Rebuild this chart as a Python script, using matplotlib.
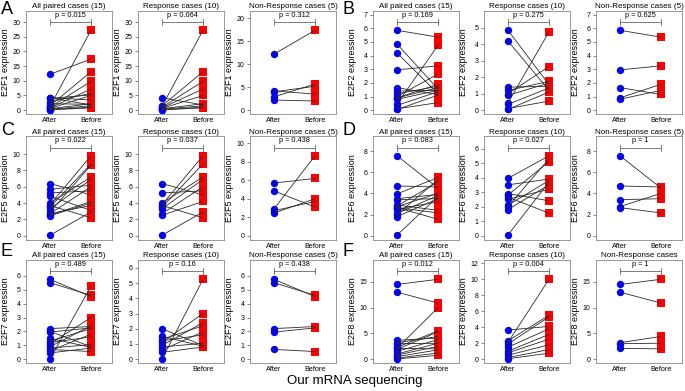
import matplotlib.pyplot as plt

plt.rcParams["font.family"] = ["Liberation Sans", "DejaVu Sans"]

genes = ["E2F1", "E2F2", "E2F5", "E2F6", "E2F7", "E2F8"]
panel_letters = ["A", "B", "C", "D", "E", "F"]
group_titles = ["All paired cases (15)", "Response cases (10)", "Non-Response cases (5)"]
x_labels = ["After", "Before"]

# expression values: response (10 pairs), non-response (5 pairs)
resp_after = {
    "E2F1": [4.2, 1.5, 1.3, 1.0, 0.8, 0.6, 0.5, 0.3, 0.2, 0.1],
    "E2F2": [4.85, 4.2, 1.4, 1.2, 1.0, 0.9, 0.45, 0.35, 0.1, 0.05],
    "E2F5": [6.4, 5.25, 4.0, 3.8, 3.7, 3.5, 3.3, 2.7, 2.5, 0.05],
    "E2F6": [3.95, 3.5, 2.9, 2.8, 2.65, 2.5, 2.1, 2.0, 1.8, 0.05],
    "E2F7": [2.0, 1.5, 1.3, 1.2, 1.1, 0.9, 0.8, 0.6, 0.45, 0.0],
    "E2F8": [3.65, 2.3, 2.1, 1.9, 1.5, 1.0, 0.8, 0.5, 0.2, 0.05],
}
resp_before = {
    "E2F1": [1.8, 13.1, 27.2, 9.8, 7.2, 5.0, 2.2, 1.5, 1.0, 0.8],
    "E2F2": [1.55, 1.2, 1.45, 1.75, 2.65, 1.65, 4.75, 1.35, 0.55, 1.1],
    "E2F5": [5.0, 5.5, 7.2, 9.8, 2.2, 8.8, 6.9, 6.0, 4.2, 2.9],
    "E2F6": [5.5, 3.9, 2.4, 5.1, 1.55, 3.2, 3.8, 5.3, 3.5, 3.7],
    "E2F7": [0.9, 0.85, 2.2, 1.6, 3.0, 2.4, 1.05, 1.8, 0.8, 5.25],
    "E2F8": [4.1, 5.5, 10.0, 5.3, 3.8, 3.1, 2.5, 1.8, 1.2, 0.75],
}
nonresp_after = {
    "E2F1": [12.2, 4.2, 4.0, 2.9, 2.2],
    "E2F2": [5.85, 2.95, 1.65, 0.9, 0.8],
    "E2F5": [5.7, 4.85, 2.9, 2.7, 2.45],
    "E2F6": [7.55, 4.7, 3.4, 2.75, 2.65],
    "E2F7": [5.75, 5.5, 2.2, 1.95, 0.7],
    "E2F8": [14.5, 13.0, 3.2, 3.0, 2.1],
}
nonresp_before = {
    "E2F1": [17.4, 3.5, 5.2, 5.7, 2.0],
    "E2F2": [5.35, 3.25, 1.15, 1.9, 1.45],
    "E2F5": [6.2, 3.1, 8.65, 3.7, 4.0],
    "E2F6": [4.5, 4.6, 3.5, 4.0, 2.15],
    "E2F7": [4.5, 4.6, 2.35, 2.25, 0.55],
    "E2F8": [15.5, 10.9, 4.4, 3.1, 2.0],
}
p_values = {
    "E2F1": ["0.015", "0.064", "0.312"],
    "E2F2": ["0.169", "0.275", "0.625"],
    "E2F5": ["0.022", "0.037", "0.438"],
    "E2F6": ["0.083", "0.027", "1"],
    "E2F7": ["0.489", "0.16", "0.438"],
    "E2F8": ["0.012", "0.004", "1"],
}
tick_steps = {
    "E2F1": [5, 5, 5],
    "E2F2": [1, 1, 1],
    "E2F5": [2, 2, 2],
    "E2F6": [2, 1, 2],
    "E2F7": [1, 1, 1],
    "E2F8": [5, 2, 5],
}

W, H = 685, 391
col_left = [26, 138, 250, 373, 484, 596]
row_top = [10.5, 136, 259.5]
box_w, box_h = 86, 103.5


def draw_panel(ax, after, before, gene, title, p, step):
    top = max(max(after), max(before))
    hi = 1.2 * top
    pad = 0.04 * hi
    ax.set_ylim(-pad, hi + pad)
    ax.set_xlim(1 - 24 / 41, 2 + 21 / 41)

    for a, b in zip(after, before):
        ax.plot([1, 2], [a, b], color="#2a2a2a", lw=0.6, zorder=3)
    ax.plot([1] * len(after), after, "o", color="#0000ff", ms=5.3, mew=0, zorder=2)
    ax.plot([2] * len(before), before, "s", color="#ff0000", ms=5.3, mew=0, zorder=2)

    yb = 1.1 * top
    cap = 0.03 * hi
    ax.plot([1, 2], [yb, yb], color="#666666", lw=0.6)
    ax.plot([1, 1], [yb - cap, yb + cap], color="#666666", lw=0.6)
    ax.plot([2, 2], [yb - cap, yb + cap], color="#666666", lw=0.6)
    ax.text(1.5, yb + 1.3 * cap, f"p = {p}", ha="center", va="bottom", fontsize=5.3)

    ticks = [k * step for k in range(int(hi // step) + 1)]
    ax.set_yticks(ticks)
    ax.set_yticklabels([str(t) for t in ticks])
    ax.set_xticks([1, 2])
    ax.set_xticklabels(x_labels)
    ax.tick_params(axis="y", length=2.5, width=0.5, labelsize=5, pad=1.5, color="#555555")
    ax.tick_params(axis="x", length=0, labelsize=5.2, pad=2.5)
    for s in ax.spines.values():
        s.set_color("#888888")
        s.set_linewidth(0.6)

    ax.set_ylabel(f"{gene} expression", fontsize=6.5)
    ax.yaxis.set_label_coords(-0.19, 0.5)
    ax.set_title(title, fontsize=5.8, pad=1.5)


fig = plt.figure(figsize=(W / 100, H / 100), dpi=100)

for g, gene in enumerate(genes):
    row, side = divmod(g, 2)
    groups = [
        (resp_after[gene] + nonresp_after[gene], resp_before[gene] + nonresp_before[gene]),
        (resp_after[gene], resp_before[gene]),
        (nonresp_after[gene], nonresp_before[gene]),
    ]
    for j, (after, before) in enumerate(groups):
        left = col_left[3 * side + j]
        ax = fig.add_axes([left / W, 1 - (row_top[row] + box_h) / H, box_w / W, box_h / H])
        title = group_titles[j]
        if gene == "E2F8" and j == 2:
            title = "Non-Response cases"
        draw_panel(ax, after, before, gene, title, p_values[gene][j], tick_steps[gene][j])

    fig.text((1 + 342 * side) / W, 1 - (1 + 121 * row) / H, panel_letters[g],
             fontsize=13, ha="left", va="top")

fig.text(355 / W, 1 - 381 / H, "Our mRNA sequencing", fontsize=9.5, ha="center", va="center")

fig.savefig("out.png", dpi=100)
